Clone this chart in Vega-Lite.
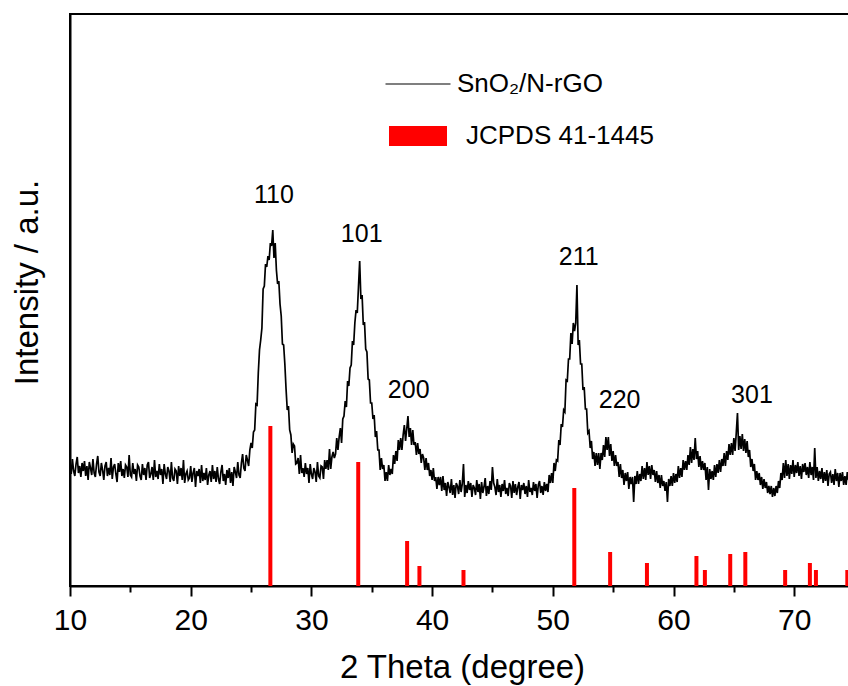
{
"$schema":"https://vega.github.io/schema/vega-lite/v6.json",
"width":779,"height":572,
"autosize":"none",
"padding":{"left":70,"top":14,"right":0,"bottom":100},
"background":"white",
"datasets":{
"ref":[{"t":26.6,"i":160},{"t":33.88,"i":124},{"t":37.93,"i":45},{"t":38.95,"i":20},{"t":42.6,"i":16},{"t":51.78,"i":98},{"t":54.75,"i":34},{"t":57.8,"i":23},{"t":61.9,"i":30},{"t":62.6,"i":16},{"t":64.7,"i":32},{"t":65.95,"i":34},{"t":69.25,"i":16},{"t":71.3,"i":23},{"t":71.8,"i":16},{"t":74.4,"i":16}],
"peaks":[{"t":26.9,"i":383,"label":"110"},{"t":34.17,"i":344,"label":"101"},{"t":38.06,"i":188,"label":"200"},{"t":52.15,"i":321,"label":"211"},{"t":55.54,"i":178,"label":"220"},{"t":66.5,"i":183,"label":"301"}],
"frame":[{"t":10,"t2":74.54,"i":572}],
"xrd":[
{"t":10.0,"i":123},{"t":10.1,"i":112},{"t":10.2,"i":127},{"t":10.3,"i":115},{"t":10.4,"i":110},{"t":10.5,"i":122},{"t":10.6,"i":129},{"t":10.7,"i":113},{"t":10.8,"i":120},{"t":10.9,"i":109},
{"t":11.0,"i":123},{"t":11.1,"i":115},{"t":11.2,"i":125},{"t":11.3,"i":110},{"t":11.4,"i":120},{"t":11.5,"i":106},{"t":11.6,"i":124},{"t":11.7,"i":118},{"t":11.8,"i":111},{"t":11.9,"i":127},
{"t":12.0,"i":113},{"t":12.1,"i":109},{"t":12.2,"i":122},{"t":12.3,"i":130},{"t":12.4,"i":114},{"t":12.5,"i":110},{"t":12.6,"i":123},{"t":12.7,"i":116},{"t":12.8,"i":106},{"t":12.9,"i":120},
{"t":13.0,"i":124},{"t":13.1,"i":110},{"t":13.2,"i":118},{"t":13.3,"i":111},{"t":13.4,"i":128},{"t":13.5,"i":107},{"t":13.6,"i":119},{"t":13.7,"i":122},{"t":13.8,"i":112},{"t":13.9,"i":104},
{"t":14.0,"i":123},{"t":14.1,"i":114},{"t":14.2,"i":125},{"t":14.3,"i":110},{"t":14.4,"i":117},{"t":14.5,"i":108},{"t":14.6,"i":121},{"t":14.7,"i":119},{"t":14.8,"i":109},{"t":14.9,"i":131},
{"t":15.0,"i":111},{"t":15.1,"i":109},{"t":15.2,"i":123},{"t":15.3,"i":112},{"t":15.4,"i":117},{"t":15.5,"i":105},{"t":15.6,"i":121},{"t":15.7,"i":119},{"t":15.8,"i":110},{"t":15.9,"i":106},
{"t":16.0,"i":122},{"t":16.1,"i":111},{"t":16.2,"i":118},{"t":16.3,"i":106},{"t":16.4,"i":121},{"t":16.5,"i":124},{"t":16.6,"i":108},{"t":16.7,"i":112},{"t":16.8,"i":119},{"t":16.9,"i":106},
{"t":17.0,"i":126},{"t":17.1,"i":109},{"t":17.2,"i":115},{"t":17.3,"i":107},{"t":17.4,"i":122},{"t":17.5,"i":111},{"t":17.6,"i":117},{"t":17.7,"i":102},{"t":17.8,"i":122},{"t":17.9,"i":112},
{"t":18.0,"i":107},{"t":18.1,"i":119},{"t":18.2,"i":115},{"t":18.3,"i":104},{"t":18.4,"i":124},{"t":18.5,"i":108},{"t":18.6,"i":105},{"t":18.7,"i":117},{"t":18.8,"i":115},{"t":18.9,"i":102},
{"t":19.0,"i":120},{"t":19.1,"i":110},{"t":19.2,"i":118},{"t":19.3,"i":106},{"t":19.4,"i":126},{"t":19.5,"i":103},{"t":19.6,"i":112},{"t":19.7,"i":115},{"t":19.8,"i":106},{"t":19.9,"i":108},
{"t":20.0,"i":120},{"t":20.1,"i":104},{"t":20.2,"i":113},{"t":20.3,"i":118},{"t":20.4,"i":99},{"t":20.5,"i":115},{"t":20.6,"i":110},{"t":20.7,"i":117},{"t":20.8,"i":103},{"t":20.9,"i":121},
{"t":21.0,"i":105},{"t":21.1,"i":113},{"t":21.2,"i":106},{"t":21.3,"i":118},{"t":21.4,"i":101},{"t":21.5,"i":111},{"t":21.6,"i":115},{"t":21.7,"i":104},{"t":21.8,"i":121},{"t":21.9,"i":107},
{"t":22.0,"i":115},{"t":22.1,"i":104},{"t":22.2,"i":119},{"t":22.3,"i":107},{"t":22.4,"i":102},{"t":22.5,"i":114},{"t":22.6,"i":121},{"t":22.7,"i":105},{"t":22.8,"i":112},{"t":22.9,"i":101},
{"t":23.0,"i":116},{"t":23.1,"i":108},{"t":23.2,"i":118},{"t":23.3,"i":103},{"t":23.4,"i":114},{"t":23.5,"i":100},{"t":23.6,"i":119},{"t":23.7,"i":114},{"t":23.8,"i":108},{"t":23.9,"i":124},
{"t":24.0,"i":111},{"t":24.1,"i":108},{"t":24.2,"i":123},{"t":24.3,"i":132},{"t":24.4,"i":118},{"t":24.5,"i":115},{"t":24.6,"i":131},{"t":24.7,"i":126},{"t":24.8,"i":120},{"t":24.9,"i":136},
{"t":25.0,"i":143},{"t":25.1,"i":138},{"t":25.2,"i":154},{"t":25.3,"i":156},{"t":25.4,"i":182},{"t":25.5,"i":181},{"t":25.6,"i":213},{"t":25.7,"i":236},{"t":25.8,"i":246},{"t":25.9,"i":258},
{"t":26.0,"i":297},{"t":26.1,"i":300},{"t":26.2,"i":322},{"t":26.3,"i":319},{"t":26.4,"i":330},{"t":26.5,"i":326},{"t":26.6,"i":343},{"t":26.7,"i":340},{"t":26.8,"i":356},{"t":26.9,"i":328},
{"t":27.0,"i":343},{"t":27.1,"i":316},{"t":27.2,"i":302},{"t":27.3,"i":305},{"t":27.4,"i":282},{"t":27.5,"i":270},{"t":27.6,"i":242},{"t":27.7,"i":241},{"t":27.8,"i":222},{"t":27.9,"i":197},
{"t":28.0,"i":176},{"t":28.1,"i":180},{"t":28.2,"i":156},{"t":28.3,"i":151},{"t":28.4,"i":133},{"t":28.5,"i":142},{"t":28.6,"i":140},{"t":28.7,"i":122},{"t":28.8,"i":123},{"t":28.9,"i":128},
{"t":29.0,"i":112},{"t":29.1,"i":131},{"t":29.2,"i":113},{"t":29.3,"i":118},{"t":29.4,"i":109},{"t":29.5,"i":123},{"t":29.6,"i":112},{"t":29.7,"i":118},{"t":29.8,"i":103},{"t":29.9,"i":122},
{"t":30.0,"i":112},{"t":30.1,"i":107},{"t":30.2,"i":118},{"t":30.3,"i":114},{"t":30.4,"i":104},{"t":30.5,"i":124},{"t":30.6,"i":110},{"t":30.7,"i":108},{"t":30.8,"i":120},{"t":30.9,"i":119},
{"t":31.0,"i":107},{"t":31.1,"i":126},{"t":31.2,"i":117},{"t":31.3,"i":126},{"t":31.4,"i":116},{"t":31.5,"i":137},{"t":31.6,"i":117},{"t":31.7,"i":129},{"t":31.8,"i":134},{"t":31.9,"i":128},
{"t":32.0,"i":132},{"t":32.1,"i":148},{"t":32.2,"i":136},{"t":32.3,"i":149},{"t":32.4,"i":158},{"t":32.5,"i":143},{"t":32.6,"i":167},{"t":32.7,"i":170},{"t":32.8,"i":185},{"t":32.9,"i":179},
{"t":33.0,"i":205},{"t":33.1,"i":200},{"t":33.2,"i":218},{"t":33.3,"i":221},{"t":33.4,"i":245},{"t":33.5,"i":241},{"t":33.6,"i":263},{"t":33.7,"i":276},{"t":33.8,"i":273},{"t":33.9,"i":299},
{"t":34.0,"i":325},{"t":34.1,"i":287},{"t":34.2,"i":291},{"t":34.3,"i":261},{"t":34.4,"i":264},{"t":34.5,"i":237},{"t":34.6,"i":234},{"t":34.7,"i":207},{"t":34.8,"i":206},{"t":34.9,"i":183},
{"t":35.0,"i":183},{"t":35.1,"i":167},{"t":35.2,"i":171},{"t":35.3,"i":149},{"t":35.4,"i":155},{"t":35.5,"i":136},{"t":35.6,"i":136},{"t":35.7,"i":116},{"t":35.8,"i":128},{"t":35.9,"i":117},
{"t":36.0,"i":121},{"t":36.1,"i":105},{"t":36.2,"i":114},{"t":36.3,"i":105},{"t":36.4,"i":121},{"t":36.5,"i":111},{"t":36.6,"i":117},{"t":36.7,"i":112},{"t":36.8,"i":131},{"t":36.9,"i":122},
{"t":37.0,"i":135},{"t":37.1,"i":125},{"t":37.2,"i":146},{"t":37.3,"i":136},{"t":37.4,"i":148},{"t":37.5,"i":136},{"t":37.6,"i":151},{"t":37.7,"i":161},{"t":37.8,"i":145},{"t":37.9,"i":157},
{"t":38.0,"i":170},{"t":38.1,"i":149},{"t":38.2,"i":158},{"t":38.3,"i":141},{"t":38.4,"i":156},{"t":38.5,"i":141},{"t":38.6,"i":144},{"t":38.7,"i":131},{"t":38.8,"i":143},{"t":38.9,"i":132},
{"t":39.0,"i":137},{"t":39.1,"i":123},{"t":39.2,"i":132},{"t":39.3,"i":128},{"t":39.4,"i":116},{"t":39.5,"i":128},{"t":39.6,"i":116},{"t":39.7,"i":123},{"t":39.8,"i":110},{"t":39.9,"i":116},
{"t":40.0,"i":106},{"t":40.1,"i":118},{"t":40.2,"i":105},{"t":40.3,"i":109},{"t":40.4,"i":97},{"t":40.5,"i":109},{"t":40.6,"i":101},{"t":40.7,"i":109},{"t":40.8,"i":95},{"t":40.9,"i":110},
{"t":41.0,"i":96},{"t":41.1,"i":103},{"t":41.2,"i":90},{"t":41.3,"i":104},{"t":41.4,"i":99},{"t":41.5,"i":93},{"t":41.6,"i":107},{"t":41.7,"i":91},{"t":41.8,"i":101},{"t":41.9,"i":88},
{"t":42.0,"i":103},{"t":42.1,"i":100},{"t":42.2,"i":92},{"t":42.3,"i":106},{"t":42.4,"i":94},{"t":42.5,"i":102},{"t":42.6,"i":122},{"t":42.7,"i":89},{"t":42.8,"i":101},{"t":42.9,"i":93},
{"t":43.0,"i":105},{"t":43.1,"i":96},{"t":43.2,"i":103},{"t":43.3,"i":89},{"t":43.4,"i":101},{"t":43.5,"i":98},{"t":43.6,"i":91},{"t":43.7,"i":106},{"t":43.8,"i":94},{"t":43.9,"i":102},
{"t":44.0,"i":87},{"t":44.1,"i":104},{"t":44.2,"i":93},{"t":44.3,"i":99},{"t":44.4,"i":108},{"t":44.5,"i":90},{"t":44.6,"i":100},{"t":44.7,"i":92},{"t":44.8,"i":105},{"t":44.9,"i":96},
{"t":45.0,"i":119},{"t":45.1,"i":103},{"t":45.2,"i":99},{"t":45.3,"i":91},{"t":45.4,"i":107},{"t":45.5,"i":94},{"t":45.6,"i":101},{"t":45.7,"i":89},{"t":45.8,"i":102},{"t":45.9,"i":95},
{"t":46.0,"i":106},{"t":46.1,"i":92},{"t":46.2,"i":98},{"t":46.3,"i":90},{"t":46.4,"i":103},{"t":46.5,"i":100},{"t":46.6,"i":88},{"t":46.7,"i":105},{"t":46.8,"i":93},{"t":46.9,"i":102},
{"t":47.0,"i":91},{"t":47.1,"i":99},{"t":47.2,"i":104},{"t":47.3,"i":87},{"t":47.4,"i":101},{"t":47.5,"i":96},{"t":47.6,"i":103},{"t":47.7,"i":92},{"t":47.8,"i":100},{"t":47.9,"i":89},
{"t":48.0,"i":106},{"t":48.1,"i":94},{"t":48.2,"i":98},{"t":48.3,"i":91},{"t":48.4,"i":104},{"t":48.5,"i":95},{"t":48.6,"i":102},{"t":48.7,"i":88},{"t":48.8,"i":101},{"t":48.9,"i":105},
{"t":49.0,"i":93},{"t":49.1,"i":100},{"t":49.2,"i":91},{"t":49.3,"i":104},{"t":49.4,"i":95},{"t":49.5,"i":102},{"t":49.6,"i":94},{"t":49.7,"i":111},{"t":49.8,"i":103},{"t":49.9,"i":113},
{"t":50.0,"i":103},{"t":50.1,"i":123},{"t":50.2,"i":115},{"t":50.3,"i":126},{"t":50.4,"i":125},{"t":50.5,"i":146},{"t":50.6,"i":141},{"t":50.7,"i":162},{"t":50.8,"i":159},{"t":50.9,"i":176},
{"t":51.0,"i":174},{"t":51.1,"i":206},{"t":51.2,"i":205},{"t":51.3,"i":227},{"t":51.4,"i":227},{"t":51.5,"i":253},{"t":51.6,"i":242},{"t":51.7,"i":263},{"t":51.8,"i":255},{"t":51.9,"i":263},
{"t":52.0,"i":301},{"t":52.1,"i":241},{"t":52.2,"i":246},{"t":52.3,"i":222},{"t":52.4,"i":222},{"t":52.5,"i":196},{"t":52.6,"i":199},{"t":52.7,"i":177},{"t":52.8,"i":177},{"t":52.9,"i":153},
{"t":53.0,"i":155},{"t":53.1,"i":138},{"t":53.2,"i":145},{"t":53.3,"i":127},{"t":53.4,"i":134},{"t":53.5,"i":120},{"t":53.6,"i":133},{"t":53.7,"i":121},{"t":53.8,"i":133},{"t":53.9,"i":117},
{"t":54.0,"i":133},{"t":54.1,"i":126},{"t":54.2,"i":141},{"t":54.3,"i":129},{"t":54.4,"i":149},{"t":54.5,"i":136},{"t":54.6,"i":149},{"t":54.7,"i":130},{"t":54.8,"i":142},{"t":54.9,"i":125},
{"t":55.0,"i":135},{"t":55.1,"i":120},{"t":55.2,"i":131},{"t":55.3,"i":120},{"t":55.4,"i":124},{"t":55.5,"i":109},{"t":55.6,"i":122},{"t":55.7,"i":108},{"t":55.8,"i":116},{"t":55.9,"i":101},
{"t":56.0,"i":113},{"t":56.1,"i":105},{"t":56.2,"i":114},{"t":56.3,"i":97},{"t":56.4,"i":109},{"t":56.5,"i":102},{"t":56.6,"i":109},{"t":56.7,"i":84},{"t":56.8,"i":110},{"t":56.9,"i":102},
{"t":57.0,"i":115},{"t":57.1,"i":102},{"t":57.2,"i":112},{"t":57.3,"i":105},{"t":57.4,"i":120},{"t":57.5,"i":107},{"t":57.6,"i":118},{"t":57.7,"i":106},{"t":57.8,"i":124},{"t":57.9,"i":111},
{"t":58.0,"i":120},{"t":58.1,"i":107},{"t":58.2,"i":121},{"t":58.3,"i":111},{"t":58.4,"i":116},{"t":58.5,"i":104},{"t":58.6,"i":115},{"t":58.7,"i":103},{"t":58.8,"i":111},{"t":58.9,"i":98},
{"t":59.0,"i":111},{"t":59.1,"i":100},{"t":59.2,"i":105},{"t":59.3,"i":95},{"t":59.4,"i":104},{"t":59.5,"i":84},{"t":59.6,"i":107},{"t":59.7,"i":100},{"t":59.8,"i":110},{"t":59.9,"i":100},
{"t":60.0,"i":113},{"t":60.1,"i":103},{"t":60.2,"i":112},{"t":60.3,"i":104},{"t":60.4,"i":120},{"t":60.5,"i":108},{"t":60.6,"i":118},{"t":60.7,"i":109},{"t":60.8,"i":126},{"t":60.9,"i":116},
{"t":61.0,"i":125},{"t":61.1,"i":116},{"t":61.2,"i":131},{"t":61.3,"i":121},{"t":61.4,"i":139},{"t":61.5,"i":123},{"t":61.6,"i":137},{"t":61.7,"i":126},{"t":61.8,"i":148},{"t":61.9,"i":127},
{"t":62.0,"i":135},{"t":62.1,"i":119},{"t":62.2,"i":130},{"t":62.3,"i":116},{"t":62.4,"i":125},{"t":62.5,"i":116},{"t":62.6,"i":123},{"t":62.7,"i":106},{"t":62.8,"i":119},{"t":62.9,"i":96},
{"t":63.0,"i":117},{"t":63.1,"i":107},{"t":63.2,"i":115},{"t":63.3,"i":106},{"t":63.4,"i":121},{"t":63.5,"i":109},{"t":63.6,"i":122},{"t":63.7,"i":113},{"t":63.8,"i":126},{"t":63.9,"i":114},
{"t":64.0,"i":127},{"t":64.1,"i":120},{"t":64.2,"i":133},{"t":64.3,"i":120},{"t":64.4,"i":135},{"t":64.5,"i":126},{"t":64.6,"i":142},{"t":64.7,"i":131},{"t":64.8,"i":143},{"t":64.9,"i":131},
{"t":65.0,"i":148},{"t":65.1,"i":135},{"t":65.2,"i":153},{"t":65.3,"i":173},{"t":65.4,"i":136},{"t":65.5,"i":150},{"t":65.6,"i":137},{"t":65.7,"i":152},{"t":65.8,"i":135},{"t":65.9,"i":147},
{"t":66.0,"i":133},{"t":66.1,"i":145},{"t":66.2,"i":129},{"t":66.3,"i":136},{"t":66.4,"i":119},{"t":66.5,"i":127},{"t":66.6,"i":115},{"t":66.7,"i":122},{"t":66.8,"i":106},{"t":66.9,"i":115},
{"t":67.0,"i":106},{"t":67.1,"i":113},{"t":67.2,"i":101},{"t":67.3,"i":109},{"t":67.4,"i":97},{"t":67.5,"i":107},{"t":67.6,"i":98},{"t":67.7,"i":104},{"t":67.8,"i":93},{"t":67.9,"i":100},
{"t":68.0,"i":92},{"t":68.1,"i":100},{"t":68.2,"i":89},{"t":68.3,"i":98},{"t":68.4,"i":90},{"t":68.5,"i":100},{"t":68.6,"i":93},{"t":68.7,"i":105},{"t":68.8,"i":98},{"t":68.9,"i":113},
{"t":69.0,"i":106},{"t":69.1,"i":123},{"t":69.2,"i":108},{"t":69.3,"i":126},{"t":69.4,"i":110},{"t":69.5,"i":122},{"t":69.6,"i":107},{"t":69.7,"i":121},{"t":69.8,"i":112},{"t":69.9,"i":126},
{"t":70.0,"i":109},{"t":70.1,"i":121},{"t":70.2,"i":113},{"t":70.3,"i":124},{"t":70.4,"i":110},{"t":70.5,"i":120},{"t":70.6,"i":107},{"t":70.7,"i":122},{"t":70.8,"i":114},{"t":70.9,"i":123},
{"t":71.0,"i":111},{"t":71.1,"i":119},{"t":71.2,"i":108},{"t":71.3,"i":124},{"t":71.4,"i":111},{"t":71.5,"i":119},{"t":71.6,"i":106},{"t":71.7,"i":138},{"t":71.8,"i":108},{"t":71.9,"i":119},
{"t":72.0,"i":105},{"t":72.1,"i":115},{"t":72.2,"i":107},{"t":72.3,"i":118},{"t":72.4,"i":103},{"t":72.5,"i":114},{"t":72.6,"i":105},{"t":72.7,"i":116},{"t":72.8,"i":100},{"t":72.9,"i":112},
{"t":73.0,"i":114},{"t":73.1,"i":103},{"t":73.2,"i":112},{"t":73.3,"i":101},{"t":73.4,"i":117},{"t":73.5,"i":105},{"t":73.6,"i":113},{"t":73.7,"i":99},{"t":73.8,"i":113},{"t":73.9,"i":105},
{"t":74.0,"i":114},{"t":74.1,"i":101},{"t":74.2,"i":110},{"t":74.3,"i":101},{"t":74.4,"i":114},{"t":74.5,"i":106}
]},
"layer":[
{"data":{"name":"xrd"},"mark":{"type":"line","stroke":"#000000","strokeWidth":1.7,"strokeJoin":"miter","clip":true},
"encoding":{
"x":{"field":"t","type":"quantitative","scale":{"domain":[10,74.54],"nice":false,"zero":false},"title":"2 Theta (degree)",
"axis":{"values":[10,15,20,25,30,35,40,45,50,55,60,65,70],"labelExpr":"datum.value % 10 === 0 ? datum.label : ''","tickSize":{"condition":{"test":"datum.value % 10 !== 0","value":6},"value":10},"labelFontSize":30,"labelPadding":33,"labelBaseline":"alphabetic","labelFlush":false,"labelOverlap":false,"titleFontSize":33,"titleX":392,"titleY":91,"titleBaseline":"alphabetic","titleAlign":"center","titleAnchor":"start"}},
"y":{"field":"i","type":"quantitative","scale":{"domain":[0,572],"nice":false,"zero":false},"title":"Intensity / a.u.",
"axis":{"ticks":false,"labels":false,"titleFontSize":33,"titleX":-33,"titleY":268,"titleBaseline":"alphabetic","titleAlign":"center","titleAnchor":"start"}},
"color":{"datum":"SnO₂/N-rGO","type":"nominal","scale":{"domain":["SnO₂/N-rGO","JCPDS 41-1445"],"range":["#000000","#ff0000"]},
"legend":{"orient":"none","legendX":335,"legendY":57,"title":null,"padding":0,"labelFont":"Liberation Sans","labelFontSize":26,"labelColor":"#000000","labelOffset":26,"symbolSize":400,"rowPadding":26,"labelLimit":400,
"encode":{"symbols":{"update":{"shape":{"signal":"datum.value === 'JCPDS 41-1445' ? 'M-2.9,-1H2.9V1H-2.9Z' : 'M-3.25,0H3.25'"},"size":{"value":400},"fill":{"signal":"datum.value === 'JCPDS 41-1445' ? '#ff0000' : 'transparent'"},"stroke":{"signal":"datum.value === 'JCPDS 41-1445' ? '#ff0000' : '#000000'"},"strokeWidth":{"signal":"datum.value === 'JCPDS 41-1445' ? 0 : 1.2"},"opacity":{"value":1}}},
"labels":{"update":{"dx":{"signal":"datum.value === 'JCPDS 41-1445' ? 9 : 0"}}}}}}
}},
{"data":{"name":"ref"},"mark":{"type":"rule","strokeWidth":4,"strokeCap":"butt"},
"encoding":{
"x":{"field":"t","type":"quantitative","title":"2 Theta (degree)"},
"y":{"field":"i","type":"quantitative","title":"Intensity / a.u."},
"y2":{"datum":0},
"color":{"datum":"JCPDS 41-1445","type":"nominal"}
}},
{"data":{"name":"peaks"},"mark":{"type":"text","fontSize":25,"font":"Liberation Sans","align":"center","baseline":"alphabetic","color":"#000000"},
"encoding":{
"x":{"field":"t","type":"quantitative","title":"2 Theta (degree)"},
"y":{"field":"i","type":"quantitative","title":"Intensity / a.u."},
"text":{"field":"label"}
}},
{"data":{"name":"frame"},"mark":{"type":"rule","stroke":"#000000","strokeWidth":2,"strokeCap":"square"},
"encoding":{
"x":{"field":"t","type":"quantitative","title":"2 Theta (degree)"},
"x2":{"field":"t2"},
"y":{"field":"i","type":"quantitative","title":"Intensity / a.u."}
}}
],
"config":{"font":"Liberation Sans","view":{"stroke":"#000000","strokeWidth":2},
"axis":{"domainColor":"#000000","domainWidth":2,"tickColor":"#000000","tickWidth":2,"labelColor":"#000000","titleColor":"#000000","grid":false,"labelFont":"Liberation Sans","titleFont":"Liberation Sans","titleFontWeight":"normal"},
"legend":{"labelFont":"Liberation Sans"}}
}
